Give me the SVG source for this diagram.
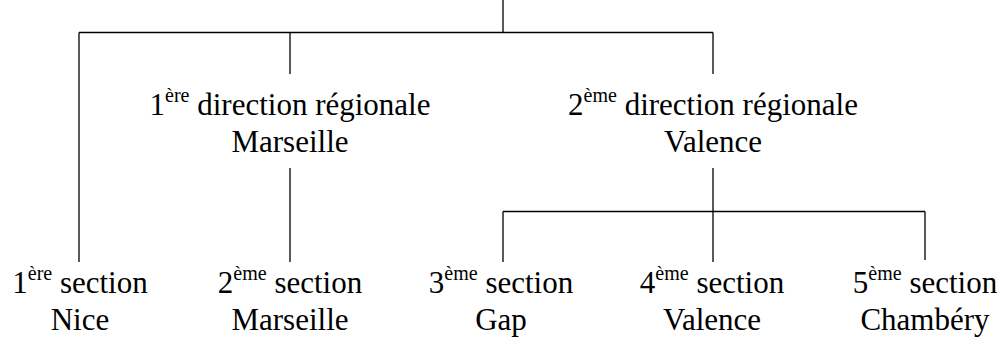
<svg xmlns="http://www.w3.org/2000/svg" width="1002" height="345" viewBox="0 0 1002 345">
<style>
.c line{stroke:#000;stroke-width:1.3;fill:none}
</style>
<rect width="1002" height="345" fill="#fff"/>
<g class="c" id="connectors">
<line x1="503" y1="0" x2="503" y2="32.5"/>
<line x1="79" y1="32.5" x2="713" y2="32.5"/>
<line x1="79" y1="32.5" x2="79" y2="262"/>
<line x1="290" y1="32.5" x2="290" y2="74"/>
<line x1="713" y1="32.5" x2="713" y2="74"/>
<line x1="290" y1="168" x2="290" y2="262"/>
<line x1="713" y1="168" x2="713" y2="262"/>
<line x1="503" y1="211.5" x2="925" y2="211.5"/>
<line x1="503" y1="211.5" x2="503" y2="262"/>
<line x1="925" y1="211.5" x2="925" y2="260"/>
</g>
<g id="dir1">
<text font-family="Liberation Serif" font-size="31" text-anchor="middle" x="290" y="115">1<tspan font-size="20" dy="-13">ère</tspan><tspan dy="13"> direction régionale</tspan></text>
<text font-family="Liberation Serif" font-size="31" text-anchor="middle" x="290" y="152">Marseille</text>
</g>
<g id="dir2">
<text font-family="Liberation Serif" font-size="31" text-anchor="middle" x="713" y="115">2<tspan font-size="20" dy="-13">ème</tspan><tspan dy="13"> direction régionale</tspan></text>
<text font-family="Liberation Serif" font-size="31" text-anchor="middle" x="713" y="152">Valence</text>
</g>
<g id="sec1">
<text font-family="Liberation Serif" font-size="31" text-anchor="middle" x="80" y="293">1<tspan font-size="20" dy="-13">ère</tspan><tspan dy="13"> section</tspan></text>
<text font-family="Liberation Serif" font-size="31" text-anchor="middle" x="80" y="330">Nice</text>
</g>
<g id="sec2">
<text font-family="Liberation Serif" font-size="31" text-anchor="middle" x="290" y="293">2<tspan font-size="20" dy="-13">ème</tspan><tspan dy="13"> section</tspan></text>
<text font-family="Liberation Serif" font-size="31" text-anchor="middle" x="290" y="330">Marseille</text>
</g>
<g id="sec3">
<text font-family="Liberation Serif" font-size="31" text-anchor="middle" x="501" y="293">3<tspan font-size="20" dy="-13">ème</tspan><tspan dy="13"> section</tspan></text>
<text font-family="Liberation Serif" font-size="31" text-anchor="middle" x="501" y="330">Gap</text>
</g>
<g id="sec4">
<text font-family="Liberation Serif" font-size="31" text-anchor="middle" x="712" y="293">4<tspan font-size="20" dy="-13">ème</tspan><tspan dy="13"> section</tspan></text>
<text font-family="Liberation Serif" font-size="31" text-anchor="middle" x="712" y="330">Valence</text>
</g>
<g id="sec5">
<text font-family="Liberation Serif" font-size="31" text-anchor="middle" x="925" y="293">5<tspan font-size="20" dy="-13">ème</tspan><tspan dy="13"> section</tspan></text>
<text font-family="Liberation Serif" font-size="31" text-anchor="middle" x="925" y="330">Chambéry</text>
</g>
</svg>
